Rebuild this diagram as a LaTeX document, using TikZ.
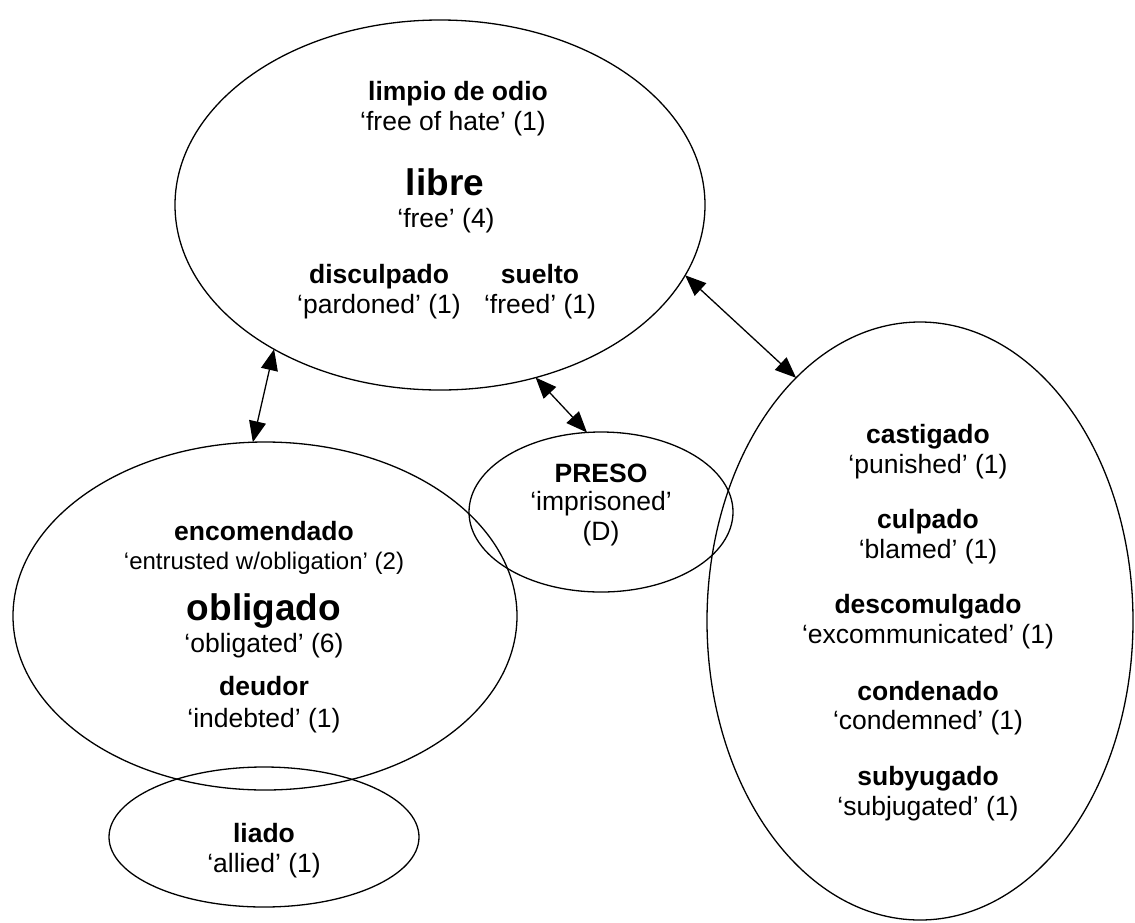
\documentclass[tikz,border=0pt]{standalone}
\usepackage{fontspec}
\setmainfont{Liberation Sans}
\usetikzlibrary{arrows.meta,shapes.geometric}
\begin{document}
\begin{tikzpicture}[x=1pt,y=-1pt,
  ring/.style={draw, ellipse, line width=1.3pt, inner sep=0pt, outer sep=0pt},
  term/.style={anchor=base, inner sep=0pt, font=\fontsize{26.5}{30}\selectfont\bfseries},
  gloss/.style={anchor=base, inner sep=0pt, font=\fontsize{26.5}{30}\selectfont},
  smallgloss/.style={anchor=base, inner sep=0pt, font=\fontsize{24}{28}\selectfont},
  bigterm/.style={anchor=base, inner sep=0pt, font=\fontsize{37}{42}\selectfont\bfseries},
  link/.style={{Triangle[length=21pt,width=17pt]}-{Triangle[length=21pt,width=17pt]}, line width=1.3pt}
]
\useasboundingbox (0,0) rectangle (1135,922);

% ellipses
\node[ring, minimum width=530pt, minimum height=370pt] (ellLibre) at (440,205) {};
\node[ring, minimum width=504pt, minimum height=348pt] (ellOblig) at (265,616) {};
\node[ring, minimum width=310pt, minimum height=140pt] (ellLiado) at (264,837) {};
\node[ring, minimum width=264pt, minimum height=160pt] (ellPreso) at (601,512) {};
\node[ring, minimum width=426pt, minimum height=598pt] (ellRight) at (920,621) {};

% libre group
\node[term]  (limpio)  at (458,100) {limpio de odio};
\node[gloss] (limpioG) at (453,130) {‘free of hate’ (1)};
\node[bigterm] (libreT) at (445,195) {libre};
\node[gloss] (libreG)  at (446,227) {‘free’ (4)};
\node[term]  (discul)  at (379,283) {disculpado};
\node[gloss] (disculG) at (379,313) {‘pardoned’ (1)};
\node[term]  (suelto)  at (540,283) {suelto};
\node[gloss] (sueltoG) at (540,313) {‘freed’ (1)};

% obligado group
\node[term]  (encom)  at (264,540) {encomendado};
\node[smallgloss] (encomG) at (264,569) {‘entrusted w/obligation’ (2)};
\node[bigterm] (obligT) at (264,620) {obligado};
\node[gloss] (obligG) at (264,652) {‘obligated’ (6)};
\node[term]  (deudor) at (264,695) {deudor};
\node[gloss] (deudorG) at (264,727) {‘indebted’ (1)};

% liado group
\node[term]  (liadoT) at (264,842) {liado};
\node[gloss] (liadoG) at (264,872) {‘allied’ (1)};

% preso group
\node[term]  (presoT) at (601,482) {PRESO};
\node[gloss] (presoG) at (601,510) {‘imprisoned’};
\node[gloss] (presoD) at (601,540) {(D)};

% right group
\node[term]  (cast)  at (928,443) {castigado};
\node[gloss] (castG) at (928,473) {‘punished’ (1)};
\node[term]  (culp)  at (928,528) {culpado};
\node[gloss] (culpG) at (928,558) {‘blamed’ (1)};
\node[term]  (desc)  at (928,613) {descomulgado};
\node[gloss] (descG) at (928,643) {‘excommunicated’ (1)};
\node[term]  (cond)  at (928,700) {condenado};
\node[gloss] (condG) at (928,729) {‘condemned’ (1)};
\node[term]  (suby)  at (928,785) {subyugado};
\node[gloss] (subyG) at (928,815) {‘subjugated’ (1)};

% connectors
\draw[link] (ellLibre.221) -- (ellOblig.94);
\draw[link] (ellLibre.299.5) -- (ellPreso.100);
\draw[link] (ellLibre.344) -- (ellRight.117);
\end{tikzpicture}
\end{document}
